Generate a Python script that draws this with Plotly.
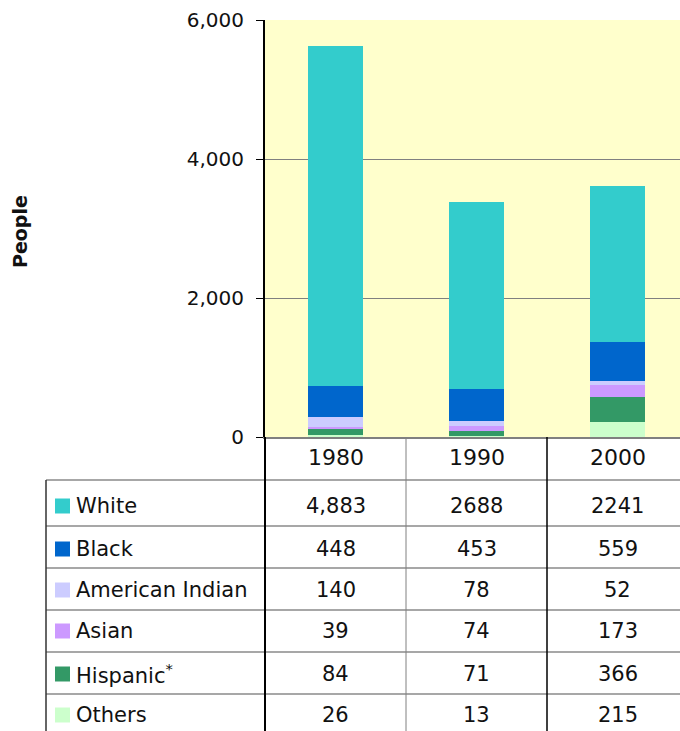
import plotly.graph_objects as go

# ---------------- data ----------------
years = ["1980", "1990", "2000"]
groups = ["White", "Black", "American Indian", "Asian", "Hispanic", "Others"]
white = [4883, 2688, 2241]
black = [448, 453, 559]
american_indian = [140, 78, 52]
asian = [39, 74, 173]
hispanic = [84, 71, 366]
others = [26, 13, 215]
white_text = ["4,883", "2688", "2241"]
y_ticks = [0, 2000, 4000, 6000]
y_tick_text = ["0", "2,000", "4,000", "6,000"]

series = {
    "White": white,
    "Black": black,
    "American Indian": american_indian,
    "Asian": asian,
    "Hispanic": hispanic,
    "Others": others,
}
colors = {
    "White": "#33CCCC",
    "Black": "#0066CC",
    "American Indian": "#CCCCFF",
    "Asian": "#CC99FF",
    "Hispanic": "#339966",
    "Others": "#CCFFCC",
}
row_names = {g: g for g in groups}
row_names["Hispanic"] = "Hispanic<sup>*</sup>"

# ---------------- layout geometry (page pixels) ----------------
W, H = 680, 731
PL, PT, PB = 265, 20, 437      # plot left, top, bottom
PW = W - PL
PH = PB - PT
XMIN = -0.5
CAT_W = 141.0
XMAX = XMIN + PW / CAT_W
FONT = "DejaVu Sans"
TXT = "#111111"


def px_x(px):
    return (px - PL) / PW


def px_y(py):
    return (PB - py) / PH


def cat_x(pos):
    return (pos - XMIN) / (XMAX - XMIN)


fig = go.Figure()
for g in reversed(groups):  # bottom of stack first
    fig.add_trace(go.Bar(
        x=years, y=series[g], name=g,
        marker=dict(color=colors[g], line=dict(width=0)),
        hovertemplate=g + " %{x}: %{y}<extra></extra>",
    ))

fig.update_layout(
    width=W, height=H,
    margin=dict(l=PL, r=0, t=PT, b=H - PB, pad=0),
    plot_bgcolor="#FFFFCC", paper_bgcolor="white",
    barmode="stack", bargap=0.61, showlegend=False,
    font=dict(family=FONT, color=TXT),
)
fig.update_xaxes(
    type="category", range=[XMIN, XMAX], showticklabels=False, ticks="",
    showgrid=False, zeroline=False,
    showline=True, linecolor="#808080", linewidth=2,
)
fig.update_yaxes(
    range=[0, 6000], tickvals=y_ticks, ticktext=y_tick_text,
    showgrid=True, gridcolor="#808080", gridwidth=1, zeroline=False,
    showline=True, linecolor="black", linewidth=2,
    ticks="outside", ticklen=7, tickcolor="black", tickwidth=1,
    tickfont=dict(family=FONT, size=20, color=TXT),
    ticklabelstandoff=8,
)

BOTTOM_Y = px_y(H + 2)
shapes = []
# horizontal table lines
for py in [480, 526, 568, 610, 652, 694]:
    shapes.append(dict(type="line", xref="paper", yref="paper",
                       x0=px_x(46), x1=1, y0=px_y(py), y1=px_y(py),
                       line=dict(color="#8a8a8a", width=1.5)))
# vertical lines
shapes.append(dict(type="line", xref="paper", yref="paper",
                   x0=0, x1=0, y0=px_y(PB), y1=BOTTOM_Y,
                   line=dict(color="black", width=2)))
for k, (col, wdt) in enumerate([("#808080", 1), ("black", 1.5)]):
    xb = cat_x(k + 0.5)
    shapes.append(dict(type="line", xref="paper", yref="paper",
                       x0=xb, x1=xb, y0=px_y(PB), y1=BOTTOM_Y,
                       line=dict(color=col, width=wdt)))
shapes.append(dict(type="line", xref="paper", yref="paper",
                   x0=px_x(46), x1=px_x(46), y0=px_y(480), y1=BOTTOM_Y,
                   line=dict(color="#333333", width=1.5)))

annotations = []
# header years
for i, yr in enumerate(years):
    annotations.append(dict(x=cat_x(i), xref="paper", y=px_y(458), yref="paper",
                            text=yr, showarrow=False, xanchor="center", yanchor="middle",
                            font=dict(family=FONT, size=22, color=TXT)))
row_centers = [506, 549, 590, 631, 674, 715]
for g, cy in zip(groups, row_centers):
    shapes.append(dict(type="rect", xref="paper", yref="paper",
                       x0=px_x(55), x1=px_x(70), y0=px_y(cy + 7.5), y1=px_y(cy - 7.5),
                       fillcolor=colors[g], line=dict(width=0)))
    annotations.append(dict(x=px_x(74), xref="paper", y=px_y(cy), yref="paper",
                            text=row_names[g], showarrow=False, xanchor="left", yanchor="middle",
                            font=dict(family=FONT, size=21, color=TXT)))
    vals = series[g]
    for i, yr in enumerate(years):
        t = white_text[i] if g == "White" else str(vals[i])
        annotations.append(dict(x=cat_x(i), xref="paper", y=px_y(cy), yref="paper",
                                text=t, showarrow=False, xanchor="center", yanchor="middle",
                                font=dict(family=FONT, size=21, color=TXT)))
# y axis title
annotations.append(dict(x=px_x(20), xref="paper", y=px_y(232), yref="paper",
                        text="<b>People</b>", textangle=-90, showarrow=False,
                        xanchor="center", yanchor="middle",
                        font=dict(family=FONT, size=19, color=TXT)))

fig.update_layout(shapes=shapes, annotations=annotations)
fig.write_html(
    "out.html",
    config={"displayModeBar": False},
    post_script="document.body.style.margin='0';"
                "document.documentElement.style.overflow='hidden';"
                "document.body.style.overflow='hidden';",
)
